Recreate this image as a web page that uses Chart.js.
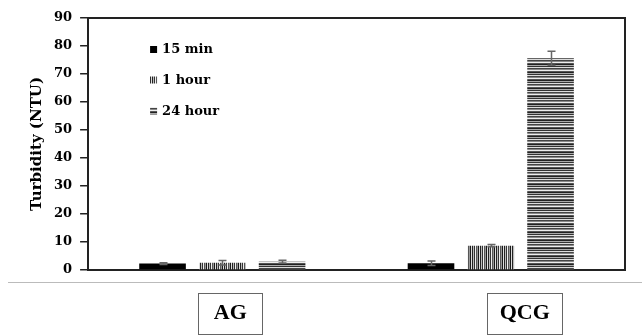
<!DOCTYPE html>
<html><head><meta charset="utf-8">
<script src="https://cdn.jsdelivr.net/npm/chart.js@4.4.0/dist/chart.umd.min.js"></script>
<style>html,body{margin:0;padding:0;background:#fff}#wrap{width:642px;height:335px;position:relative}</style>
</head><body><div id="wrap"><canvas id="c"></canvas></div>
<script>
const categories = ['AG', 'QCG'];
const seriesLabels = ['15 min', '1 hour', '24 hour'];
const min15 = [2.3, 2.4];
const hour1 = [2.6, 8.7];
const hour24 = [3.0, 75.6];
const err15 = [0.3, 0.8];
const err1 = [0.8, 0.4];
const err24 = [0.5, 2.5];
const yMin = 0, yMax = 90, yStep = 10;

function stripePattern(colors, vertical) {
  const c = document.createElement('canvas');
  c.width = vertical ? colors.length : 1;
  c.height = vertical ? 1 : colors.length;
  const g = c.getContext('2d');
  colors.forEach((col, i) => { g.fillStyle = col; vertical ? g.fillRect(i, 0, 1, 1) : g.fillRect(0, i, 1, 1); });
  return g.createPattern(c, 'repeat');
}
const ctx = document.getElementById('c').getContext('2d');
const patV = stripePattern(['#222', '#bbb', '#333', '#eee', '#555', '#999', '#1a1a1a', '#ddd'], true);
const patH = stripePattern(['#222', '#aaa', '#333', '#ddd', '#444', '#888', '#eee', '#555'], false);
const fills = ['#000', patV, patH];
const errs = [err15, err1, err24];
const wide = "'DejaVu Serif', serif";
const serif = "'Liberation Serif', 'Times New Roman', serif";

const framePlugin = {
  id: 'frame',
  afterDatasetsDraw(chart) {
    const { ctx, chartArea: a, scales } = chart;
    ctx.save();
    // error bars
    ctx.strokeStyle = '#666'; ctx.lineWidth = 1.5;
    chart.data.datasets.forEach((ds, di) => {
      const meta = chart.getDatasetMeta(di);
      meta.data.forEach((bar, i) => {
        const v = ds.data[i], e = errs[di][i];
        const x = Math.round(bar.x) + 0.5;
        const y1 = scales.y.getPixelForValue(v + e), y2 = scales.y.getPixelForValue(v - e);
        ctx.beginPath();
        ctx.moveTo(x, y1); ctx.lineTo(x, y2);
        ctx.moveTo(x - 4, y1); ctx.lineTo(x + 4, y1);
        ctx.moveTo(x - 4, y2); ctx.lineTo(x + 4, y2);
        ctx.stroke();
      });
    });
    // top and right frame
    ctx.strokeStyle = '#222'; ctx.lineWidth = 2;
    ctx.beginPath();
    ctx.moveTo(a.left, a.top); ctx.lineTo(a.right, a.top); ctx.lineTo(a.right, a.bottom);
    ctx.stroke();
    // legend
    ctx.font = 'bold 13px ' + wide;
    ctx.textBaseline = 'middle';
    const lx = a.left + 62, ly = [a.top + 31.5, a.top + 62, a.top + 93];
    chart.data.datasets.forEach((ds, di) => {
      ctx.fillStyle = ds.backgroundColor;
      ctx.fillRect(lx, ly[di] - 3.5, 7, 7);
      ctx.fillStyle = '#000';
      ctx.fillText(ds.label, lx + 12, ly[di] + 0.5);
    });
    // separator line
    ctx.strokeStyle = '#bbb'; ctx.lineWidth = 1;
    ctx.beginPath(); ctx.moveTo(8, a.bottom + 12.5); ctx.lineTo(chart.width, a.bottom + 12.5); ctx.stroke();
    // boxed category labels
    const dx = [8, 34], bw = [64, 75];
    ctx.font = 'bold 22px ' + serif;
    ctx.textAlign = 'center';
    categories.forEach((cat, i) => {
      const cx = scales.x.getPixelForValue(i) + dx[i];
      ctx.strokeStyle = '#666'; ctx.lineWidth = 1;
      ctx.strokeRect(Math.round(cx - bw[i] / 2) + 0.5, a.bottom + 23.5, bw[i], 41);
      ctx.fillStyle = '#000';
      ctx.fillText(cat, cx, a.bottom + 43);
    });
    ctx.restore();
  }
};

new Chart(ctx, {
  type: 'bar',
  data: {
    labels: categories,
    datasets: [
      { label: seriesLabels[0], data: min15, backgroundColor: fills[0] },
      { label: seriesLabels[1], data: hour1, backgroundColor: fills[1] },
      { label: seriesLabels[2], data: hour24, backgroundColor: fills[2] }
    ]
  },
  options: {
    responsive: true, maintainAspectRatio: false, animation: false,
    categoryPercentage: 0.668, barPercentage: 0.78,
    layout: { padding: { left: 26, right: 17, top: 18, bottom: 57 } },
    plugins: { legend: { display: false }, tooltip: { enabled: false } },
    scales: {
      x: {
        grid: { display: false },
        border: { display: true, color: '#222', width: 2 },
        ticks: { display: false }
      },
      y: {
        min: yMin, max: yMax,
        ticks: { stepSize: yStep, color: '#000', font: { family: wide, weight: 'bold', size: 13 }, padding: 8 },
        grid: { drawOnChartArea: false, drawTicks: true, tickLength: 8, color: '#222', lineWidth: 1.5 },
        border: { display: true, color: '#222', width: 2 },
        title: { display: true, text: 'Turbidity (NTU)', color: '#000', font: { family: wide, weight: 'bold', size: 15 }, padding: { top: 2, bottom: 0 } }
      }
    }
  },
  plugins: [framePlugin]
});
</script></body></html>
